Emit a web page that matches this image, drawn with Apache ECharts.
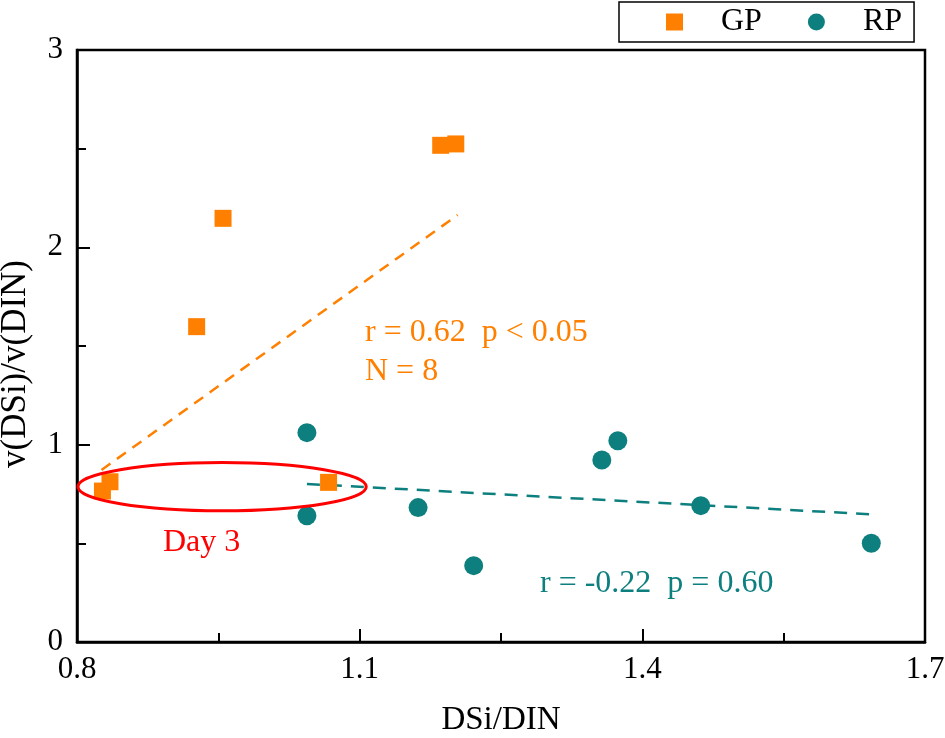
<!DOCTYPE html>
<html>
<head>
<meta charset="utf-8">
<script src="https://cdn.jsdelivr.net/npm/echarts@6/dist/echarts.min.js"></script>
<style>
html, body { margin: 0; padding: 0; background: #fff; }
#chart { width: 945px; height: 738px; }
</style>
</head>
<body>
<div id="chart"></div>
<script>
// GP (squares) and RP (circles)
var gpX = [0.827, 0.835, 0.927, 0.955, 1.067, 1.186, 1.202];
var gpY = [0.765, 0.812, 1.598, 2.147, 0.809, 2.517, 2.524];
var rpX = [1.044, 1.044, 1.162, 1.221, 1.357, 1.374, 1.462, 1.643];
var rpY = [1.061, 0.640, 0.681, 0.387, 0.922, 1.020, 0.691, 0.500];

// fitted trend lines (end points)
var gpFitX = [0.826, 1.204];
var gpFitY = [0.872, 2.164];
var rpFitX = [1.044, 1.643];
var rpFitY = [0.801, 0.647];

// "Day 3" ellipse: centre and radii in data units
var day3Center = [0.954, 0.787];
var day3Radius = [0.153, 0.122];

var xTicks = [0.8, 1.1, 1.4, 1.7];
var yTicks = [0, 1, 2, 3];

var ORANGE = '#FF8000';
var TEAL = '#0E7F7F';
var FONT = '"Liberation Serif", "DejaVu Serif", serif';

function pairs(xs, ys) {
    return xs.map(function (x, i) { return [x, ys[i]]; });
}

var myChart = echarts.init(document.getElementById('chart'));
var option = {
    backgroundColor: '#fff',
    textStyle: { fontFamily: FONT },
    legend: {
        left: 619,
        top: 2,
        padding: [4, 12, 4, 47],
        itemGap: 46,
        itemWidth: 17,
        itemHeight: 17,
        borderColor: '#000',
        borderWidth: 1.5,
        textStyle: {
            fontFamily: FONT,
            fontSize: 32,
            color: '#000',
            padding: [0, 0, 0, 33]
        },
        data: ['GP', 'RP']
    },
    grid: {
        left: 77,
        right: 20,
        top: 50,
        bottom: 96,
        outerBoundsMode: 'none',
        containLabel: false,
        show: true,
        borderColor: '#000',
        borderWidth: 2.5
    },
    xAxis: {
        type: 'value',
        min: xTicks[0],
        max: xTicks[xTicks.length - 1],
        interval: 0.3,
        name: 'DSi/DIN',
        nameLocation: 'middle',
        nameGap: 62,
        nameTextStyle: { fontFamily: FONT, fontSize: 33, color: '#000' },
        axisLine: { lineStyle: { color: '#000', width: 2.5 } },
        axisTick: { inside: true, length: 13, lineStyle: { color: '#000', width: 2 } },
        minorTick: { show: true, splitNumber: 2, length: 9, lineStyle: { color: '#000', width: 2 } },
        splitLine: { show: false },
        axisLabel: {
            fontFamily: FONT, fontSize: 31, color: '#000', margin: 12,
            formatter: function (v) { return v.toFixed(1); }
        }
    },
    yAxis: {
        type: 'value',
        min: yTicks[0],
        max: yTicks[yTicks.length - 1],
        interval: 1,
        name: 'v(DSi)/v(DIN)',
        nameLocation: 'middle',
        nameGap: 44,
        nameTextStyle: { fontFamily: FONT, fontSize: 35, color: '#000', padding: [0, 36, 0, 0] },
        axisLine: { lineStyle: { color: '#000', width: 2.5 } },
        axisTick: { inside: true, length: 13, lineStyle: { color: '#000', width: 2 } },
        minorTick: { show: true, splitNumber: 2, length: 9, lineStyle: { color: '#000', width: 2 } },
        splitLine: { show: false },
        axisLabel: { fontFamily: FONT, fontSize: 31, color: '#000', margin: 14 }
    },
    series: [
        {
            name: 'GP fit',
            type: 'line',
            data: pairs(gpFitX, gpFitY),
            symbol: 'none',
            silent: true,
            lineStyle: { color: ORANGE, width: 2.5, type: [11, 8] },
            z: 2
        },
        {
            name: 'RP fit',
            type: 'line',
            data: pairs(rpFitX, rpFitY),
            symbol: 'none',
            silent: true,
            lineStyle: { color: TEAL, width: 2.5, type: [13, 9] },
            z: 2
        },
        {
            name: 'GP',
            type: 'scatter',
            symbol: 'rect',
            symbolSize: 17,
            itemStyle: { color: ORANGE, opacity: 1 },
            data: pairs(gpX, gpY),
            z: 3
        },
        {
            name: 'RP',
            type: 'scatter',
            symbol: 'circle',
            symbolSize: 19,
            itemStyle: { color: TEAL, opacity: 1 },
            data: pairs(rpX, rpY),
            z: 3
        },
        {
            name: 'Day 3',
            type: 'custom',
            silent: true,
            z: 4,
            data: [[day3Center[0], day3Center[1]]],
            renderItem: function (params, api) {
                var c = api.coord([api.value(0), api.value(1)]);
                var s = api.size([day3Radius[0], day3Radius[1]]);
                return {
                    type: 'ellipse',
                    shape: { cx: c[0], cy: c[1], rx: s[0], ry: s[1] },
                    style: { fill: 'none', stroke: '#FF0000', lineWidth: 3 }
                };
            }
        }
    ],
    graphic: [
        { type: 'text', x: 365, y: 333, style: { text: 'r = 0.62  p < 0.05', font: '32px ' + FONT, fill: ORANGE, verticalAlign: 'middle' } },
        { type: 'text', x: 365, y: 372, style: { text: 'N = 8', font: '32px ' + FONT, fill: ORANGE, verticalAlign: 'middle' } },
        { type: 'text', x: 540, y: 584, style: { text: 'r = -0.22  p = 0.60', font: '32px ' + FONT, fill: TEAL, verticalAlign: 'middle' } },
        { type: 'text', x: 163, y: 543, style: { text: 'Day 3', font: '32px ' + FONT, fill: '#FF0000', verticalAlign: 'middle' } }
    ]
};
myChart.setOption(option);
</script>
</body>
</html>
